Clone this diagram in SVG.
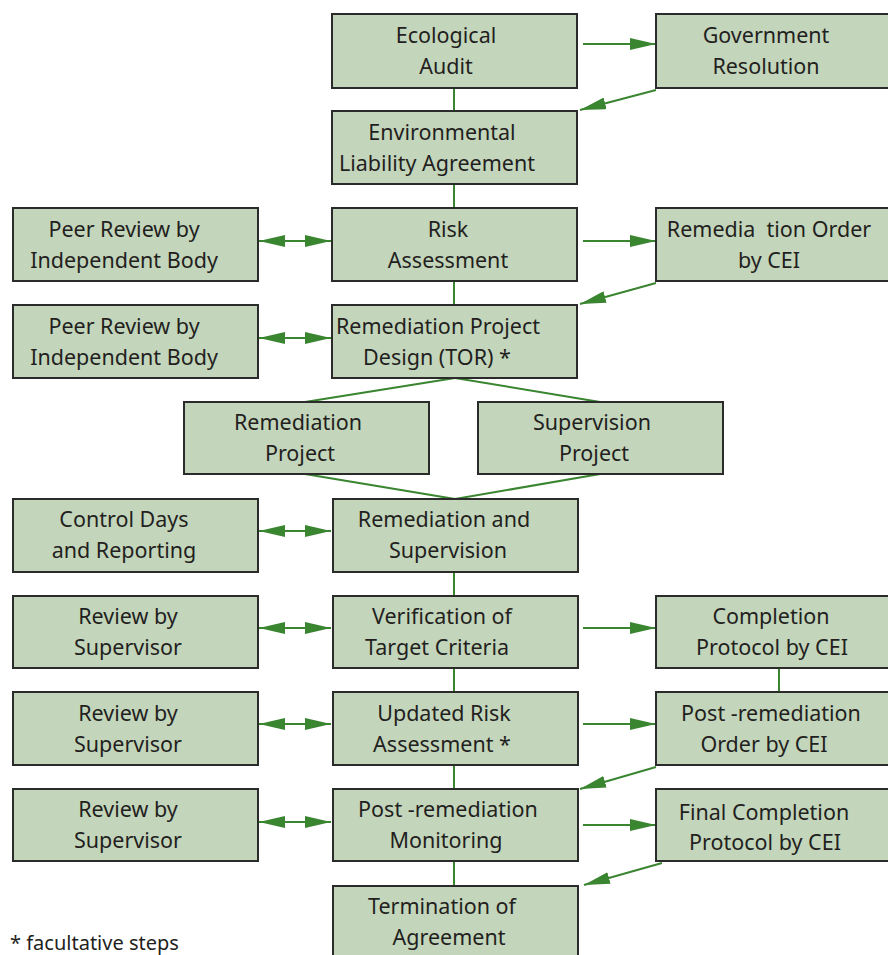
<svg xmlns="http://www.w3.org/2000/svg" width="888" height="955" viewBox="0 0 888 955">
<defs>
<style>
.box{fill:#c3d6bc;stroke:#2b2b2b;stroke-width:2}
.t{font-family:"Noto Sans","Open Sans",sans-serif;font-size:21.5px;fill:#231f20;text-anchor:middle;white-space:pre}
.c{stroke:#3a8530;stroke-width:2;fill:none}
.foot{font-family:"Noto Sans","Open Sans",sans-serif;font-size:20px;fill:#231f20}
</style>
<marker id="ahl" viewBox="0 0 10 10" refX="10" refY="5" markerWidth="26" markerHeight="12" markerUnits="userSpaceOnUse" orient="auto" preserveAspectRatio="none">
<path d="M0,0 L10,5 L0,10 z" fill="#3a8530"/>
</marker>
<marker id="ahs" viewBox="0 0 10 10" refX="0" refY="5" markerWidth="26" markerHeight="12" markerUnits="userSpaceOnUse" orient="auto" preserveAspectRatio="none">
<path d="M10,0 L0,5 L10,10 z" fill="#3a8530"/>
</marker>
</defs>
<rect width="888" height="955" fill="#ffffff"/>

<g id="connectors">
<line class="c" x1="454" y1="88" x2="454" y2="111"/>
<line class="c" x1="454" y1="184" x2="454" y2="208"/>
<line class="c" x1="454" y1="281" x2="454" y2="305"/>
<line class="c" x1="455" y1="378" x2="305" y2="402"/>
<line class="c" x1="455" y1="378" x2="600" y2="402"/>
<line class="c" x1="305" y1="474" x2="455" y2="499"/>
<line class="c" x1="600" y1="474" x2="455" y2="499"/>
<line class="c" x1="454" y1="572" x2="454" y2="596"/>
<line class="c" x1="454" y1="668" x2="454" y2="692"/>
<line class="c" x1="454" y1="765" x2="454" y2="789"/>
<line class="c" x1="454" y1="861" x2="454" y2="886"/>
<line class="c" x1="779" y1="668" x2="779" y2="692"/>

<line class="c" x1="583" y1="44" x2="656" y2="44" marker-end="url(#ahl)"/>
<line class="c" x1="656" y1="90" x2="580" y2="110" marker-end="url(#ahl)"/>
<line class="c" x1="583" y1="241" x2="656" y2="241" marker-end="url(#ahl)"/>
<line class="c" x1="656" y1="283" x2="580" y2="304" marker-end="url(#ahl)"/>
<line class="c" x1="583" y1="628" x2="656" y2="628" marker-end="url(#ahl)"/>
<line class="c" x1="583" y1="724" x2="656" y2="724" marker-end="url(#ahl)"/>
<line class="c" x1="656" y1="767" x2="580" y2="789" marker-end="url(#ahl)"/>
<line class="c" x1="583" y1="825" x2="656" y2="825" marker-end="url(#ahl)"/>
<line class="c" x1="662" y1="863" x2="584" y2="885" marker-end="url(#ahl)"/>

<line class="c" x1="259" y1="241" x2="331" y2="241" marker-start="url(#ahs)" marker-end="url(#ahl)"/>
<line class="c" x1="259" y1="338" x2="331" y2="338" marker-start="url(#ahs)" marker-end="url(#ahl)"/>
<line class="c" x1="259" y1="531" x2="331" y2="531" marker-start="url(#ahs)" marker-end="url(#ahl)"/>
<line class="c" x1="259" y1="628" x2="331" y2="628" marker-start="url(#ahs)" marker-end="url(#ahl)"/>
<line class="c" x1="259" y1="724" x2="331" y2="724" marker-start="url(#ahs)" marker-end="url(#ahl)"/>
<line class="c" x1="259" y1="822" x2="331" y2="822" marker-start="url(#ahs)" marker-end="url(#ahl)"/>
</g>

<g id="n-eco"><rect class="box" x="332" y="14" width="245" height="74"/><text class="t" x="446" y="43">Ecological</text><text class="t" x="446" y="74">Audit</text></g>
<g id="n-gov"><rect class="box" x="656" y="14" width="245" height="74"/><text class="t" x="766" y="43">Government</text><text class="t" x="766" y="74">Resolution</text></g>
<g id="n-ela"><rect class="box" x="332" y="111" width="245" height="73"/><text class="t" x="442" y="140">Environmental</text><text class="t" x="437" y="171">Liability Agreement</text></g>

<g id="n-peer1"><rect class="box" x="13" y="208" width="245" height="73"/><text class="t" x="124" y="237">Peer Review by</text><text class="t" x="124" y="268">Independent Body</text></g>
<g id="n-risk"><rect class="box" x="332" y="208" width="245" height="73"/><text class="t" x="448" y="237">Risk</text><text class="t" x="448" y="268">Assessment</text></g>
<g id="n-rord"><rect class="box" x="656" y="208" width="245" height="73"/><text class="t" x="769" y="237">Remedia  tion Order</text><text class="t" x="769" y="268">by CEI</text></g>

<g id="n-peer2"><rect class="box" x="13" y="305" width="245" height="73"/><text class="t" x="124" y="334">Peer Review by</text><text class="t" x="124" y="365">Independent Body</text></g>
<g id="n-design"><rect class="box" x="332" y="305" width="245" height="73"/><text class="t" x="438" y="334">Remediation Project</text><text class="t" x="437" y="365">Design (TOR) *</text></g>

<g id="n-rproj"><rect class="box" x="184" y="402" width="245" height="72"/><text class="t" x="298" y="430">Remediation</text><text class="t" x="300" y="461">Project</text></g>
<g id="n-sproj"><rect class="box" x="478" y="402" width="245" height="72"/><text class="t" x="592" y="430">Supervision</text><text class="t" x="594" y="461">Project</text></g>

<g id="n-ctrl"><rect class="box" x="13" y="499" width="245" height="73"/><text class="t" x="124" y="527">Control Days</text><text class="t" x="124" y="558">and Reporting</text></g>
<g id="n-rs"><rect class="box" x="333" y="499" width="245" height="73"/><text class="t" x="444" y="527">Remediation and</text><text class="t" x="448" y="558">Supervision</text></g>

<g id="n-rev1"><rect class="box" x="13" y="596" width="245" height="72"/><text class="t" x="128" y="624">Review by</text><text class="t" x="128" y="655">Supervisor</text></g>
<g id="n-verif"><rect class="box" x="333" y="596" width="245" height="72"/><text class="t" x="442" y="624">Verification of</text><text class="t" x="437" y="655">Target Criteria</text></g>
<g id="n-cp"><rect class="box" x="656" y="596" width="245" height="72"/><text class="t" x="771" y="624">Completion</text><text class="t" x="772" y="655">Protocol by CEI</text></g>

<g id="n-rev2"><rect class="box" x="13" y="692" width="245" height="73"/><text class="t" x="128" y="721">Review by</text><text class="t" x="128" y="752">Supervisor</text></g>
<g id="n-ura"><rect class="box" x="333" y="692" width="245" height="73"/><text class="t" x="444" y="721">Updated Risk</text><text class="t" x="442" y="752">Assessment *</text></g>
<g id="n-pord"><rect class="box" x="656" y="692" width="245" height="73"/><text class="t" x="771" y="721">Post -remediation</text><text class="t" x="764" y="752">Order by CEI</text></g>

<g id="n-rev3"><rect class="box" x="13" y="789" width="245" height="72"/><text class="t" x="128" y="817">Review by</text><text class="t" x="128" y="848">Supervisor</text></g>
<g id="n-mon"><rect class="box" x="333" y="789" width="245" height="72"/><text class="t" x="448" y="817">Post -remediation</text><text class="t" x="446" y="848">Monitoring</text></g>
<g id="n-fcp"><rect class="box" x="656" y="789" width="245" height="72"/><text class="t" x="764" y="820">Final Completion</text><text class="t" x="765" y="850">Protocol by CEI</text></g>

<g id="n-term"><rect class="box" x="333" y="886" width="245" height="80"/><text class="t" x="442" y="914">Termination of</text><text class="t" x="449" y="945">Agreement</text></g>

<text class="foot" x="10" y="950">* facultative steps</text>
</svg>
